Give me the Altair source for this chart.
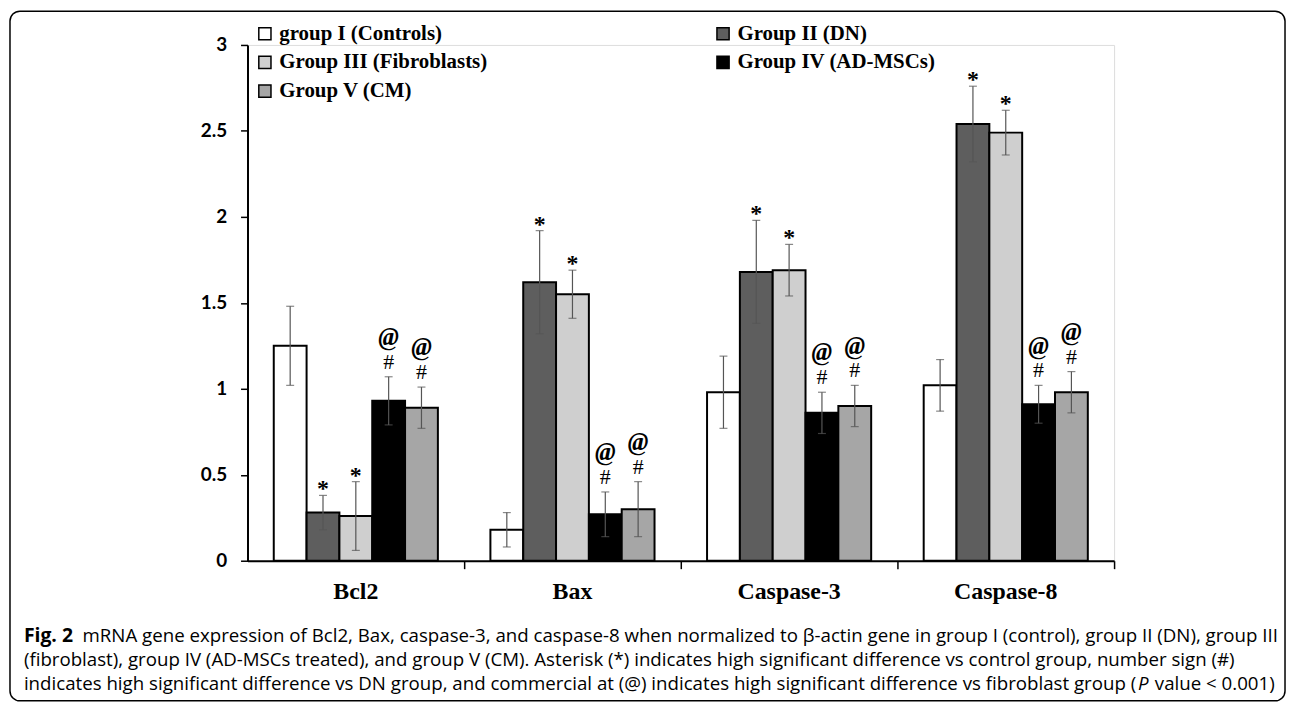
import altair as alt
import pandas as pd

categories = ["Bcl2", "Bax", "Caspase-3", "Caspase-8"]
groups = ["group I (Controls)", "Group II (DN)", "Group III (Fibroblasts)",
          "Group IV (AD-MSCs)", "Group V (CM)"]

# mean values per group, in category order
g1_mean = [1.25, 0.18, 0.98, 1.02]
g2_mean = [0.28, 1.62, 1.68, 2.54]
g3_mean = [0.26, 1.55, 1.69, 2.49]
g4_mean = [0.93, 0.27, 0.86, 0.91]
g5_mean = [0.89, 0.30, 0.90, 0.98]

# error (half-length of error bar)
g1_err = [0.23, 0.10, 0.21, 0.15]
g2_err = [0.10, 0.30, 0.30, 0.22]
g3_err = [0.20, 0.14, 0.15, 0.13]
g4_err = [0.14, 0.13, 0.12, 0.11]
g5_err = [0.12, 0.16, 0.12, 0.12]

# significance marks per group
g_star = [False, True, True, False, False]
g_hash = [False, False, False, True, True]
g_at = [False, False, False, True, True]

fills = ["#ffffff", "#5e5e5e", "#cfcfcf", "#000000", "#a6a6a6"]

caption_bold = "Fig. 2"
caption_lines = [
    "mRNA gene expression of Bcl2, Bax, caspase-3, and caspase-8 when normalized to \u03b2-actin gene in group I (control), group II (DN), group III",
    "(fibroblast), group IV (AD-MSCs treated), and group V (CM). Asterisk (*) indicates high significant difference vs control group, number sign (#)",
    "indicates high significant difference vs DN group, and commercial at (@) indicates high significant difference vs fibroblast group (",
]
caption_italic = "P"
caption_end = "value < 0.001)"

means = [g1_mean, g2_mean, g3_mean, g4_mean, g5_mean]
errs = [g1_err, g2_err, g3_err, g4_err, g5_err]
rows = []
for gi, g in enumerate(groups):
    for ci, c in enumerate(categories):
        m = means[gi][ci]
        e = errs[gi][ci]
        rows.append({
            "category": c, "group": g, "value": m,
            "lo": m - e, "hi": m + e,
            "star": "*" if g_star[gi] else "",
            "hash": "#" if g_hash[gi] else "",
            "at": "@" if g_at[gi] else "",
        })
df = pd.DataFrame(rows)

# legend is filled column by column: order the domain so it reads row by row
legend_order = [groups[0], groups[2], groups[4], groups[1], groups[3]]
legend_fills = [fills[groups.index(g)] for g in legend_order]

W, H = 872, 519

x_enc = alt.X("category:N", sort=categories,
              scale=alt.Scale(paddingInner=0, paddingOuter=0),
              axis=alt.Axis(title=None, labelAngle=0, bandPosition=1,
                            tickSize=8, tickColor="black", tickWidth=1.5,
                            domainColor="black", domainWidth=2,
                            labelFont="Liberation Serif", labelFontWeight="bold",
                            labelFontSize=24, labelColor="black", labelPadding=11))
xo_enc = alt.XOffset("group:N", sort=groups,
                     scale=alt.Scale(paddingInner=0, paddingOuter=0.8))
y_scale = alt.Scale(domain=[0, 3], nice=False)

bars = alt.Chart(df).mark_bar(stroke="black", strokeWidth=2).encode(
    x=x_enc,
    xOffset=xo_enc,
    y=alt.Y("value:Q", scale=y_scale,
            axis=alt.Axis(title=None, values=[0, 0.5, 1, 1.5, 2, 2.5, 3], format="~g",
                          grid=False, tickSize=7, tickColor="black", tickWidth=1.5,
                          domainColor="black", domainWidth=2,
                          labelFont="Lato", labelFontWeight="bold", labelFontSize=19,
                          labelColor="black", labelPadding=14)),
    color=alt.Color("group:N",
                    scale=alt.Scale(domain=legend_order, range=legend_fills),
                    legend=alt.Legend(orient="none", legendX=7, legendY=-22, columns=2,
                                      columnPadding=226, rowPadding=7, padding=0,
                                      title=None, symbolType="square", symbolSize=150,
                                      symbolStrokeColor="black", symbolStrokeWidth=1.5,
                                      labelFont="Liberation Serif", labelFontWeight="bold",
                                      labelFontSize=21, labelColor="black", labelLimit=0,
                                      labelOffset=4, symbolOpacity=1)),
)

rule = alt.Chart(df).mark_rule(color="#555555", strokeWidth=1.2).encode(
    x=alt.X("category:N", sort=categories), xOffset=alt.XOffset("group:N", sort=groups),
    y=alt.Y("lo:Q", scale=y_scale), y2="hi:Q")
cap_lo = alt.Chart(df).mark_tick(color="#555555", thickness=1.2, size=8, orient="horizontal").encode(
    x=alt.X("category:N", sort=categories), xOffset=alt.XOffset("group:N", sort=groups),
    y=alt.Y("lo:Q", scale=y_scale))
cap_hi = alt.Chart(df).mark_tick(color="#555555", thickness=1.2, size=8, orient="horizontal").encode(
    x=alt.X("category:N", sort=categories), xOffset=alt.XOffset("group:N", sort=groups),
    y=alt.Y("hi:Q", scale=y_scale))

def sig_layer(field, dy, font_style, size, weight):
    return alt.Chart(df).mark_text(font="Liberation Serif", fontSize=size, fontWeight=weight,
                                   fontStyle=font_style, baseline="middle", dy=dy,
                                   color="black").encode(
        x=alt.X("category:N", sort=categories), xOffset=alt.XOffset("group:N", sort=groups),
        y=alt.Y("hi:Q", scale=y_scale), text=f"{field}:N")

stars = sig_layer("star", -6, "normal", 24, "bold")
hashes = sig_layer("hash", -15, "normal", 22, "normal")
ats = sig_layer("at", -40, "italic", 25, "bold")

frame = alt.Chart(pd.DataFrame({"k": [0]})).mark_rect(
    fill=None, stroke="black", strokeWidth=1.5, cornerRadius=10).encode(
    x=alt.value(-239), x2=alt.value(1044), y=alt.value(-34), y2=alt.value(660))

cap_font = 18.8
cap_x = -225
cap_y = [595, 619, 643]


def cap_text(text, x, y, weight="normal", style="normal", size=cap_font):
    return alt.Chart(pd.DataFrame({"t": [text]})).mark_text(
        font="Open Sans", fontSize=size, fontWeight=weight, fontStyle=style,
        align="left", baseline="middle", color="black").encode(
        x=alt.value(x), y=alt.value(y), text="t:N")


cap_layers = [cap_text(caption_bold, cap_x, cap_y[0], weight="bold", size=19.5)]
for i, line in enumerate(caption_lines):
    xx = cap_x + (59 if i == 0 else 0)
    cap_layers.append(cap_text(line, xx, cap_y[i]))
cap_layers.append(cap_text(caption_italic, cap_x + 1121, cap_y[2], style="italic"))
cap_layers.append(cap_text(caption_end, cap_x + 1138, cap_y[2]))

chart = alt.layer(frame, bars, rule, cap_lo, cap_hi, stars, hashes, ats, *cap_layers).properties(
    width=W, height=H,
    padding={"left": 241, "top": 35, "right": 174, "bottom": 143},
    autosize=alt.AutoSizeParams(type="none"),
).configure_view(stroke=None).configure(background="white")

chart.save("out.html", embed_options={"renderer": "svg", "actions": False})
